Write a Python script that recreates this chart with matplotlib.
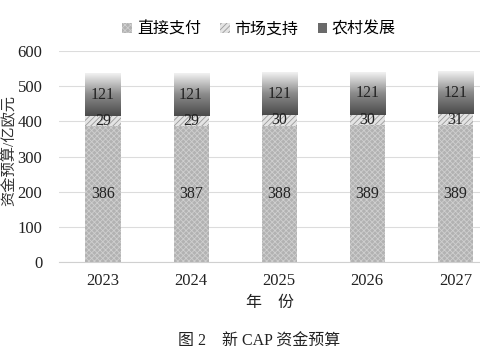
import matplotlib
matplotlib.use("Agg")
import matplotlib.pyplot as plt
import numpy as np
from matplotlib.patches import Patch
from matplotlib.colors import LinearSegmentedColormap

plt.rcParams['font.family'] = ['Liberation Serif', 'Noto Sans CJK SC']
plt.rcParams['hatch.linewidth'] = 0.6

years = ['2023', '2024', '2025', '2026', '2027']
direct = [386, 387, 388, 389, 389]
market = [29, 29, 30, 30, 31]
rural = [121, 121, 121, 121, 121]
series_names = ['直接支付', '市场支持', '农村发展']

fig = plt.figure(figsize=(4.8, 3.6), dpi=100)
ax = fig.add_axes([0.123, 0.272, 0.877, 0.586])

x = np.arange(len(years))
w = 0.4
ax.bar(x, direct, w, color='#b2b2b2', edgecolor='#cfcfcf', hatch='xxxxxx', linewidth=0, zorder=2)
ax.bar(x, market, w, bottom=direct, color='#e4e4e4', edgecolor='#9a9a9a', hatch='//////', linewidth=0, zorder=2)
bottoms3 = np.array(direct) + np.array(market)
ax.bar(x, rural, w, bottom=bottoms3, color='none', linewidth=0, zorder=2)

cmap = LinearSegmentedColormap.from_list('g', ['#4a4a4a', '#8a8a8a', '#f2f2f2'])
grad = np.linspace(0, 1, 256).reshape(-1, 1)
for xi, bt, h in zip(x, bottoms3, rural):
    ax.imshow(grad, extent=[xi - w / 2, xi + w / 2, bt, bt + h], origin='lower',
              aspect='auto', cmap=cmap, zorder=2)

for xi, d, m, r in zip(x, direct, market, rural):
    ax.text(xi, d / 2, str(d), ha='center', va='center', fontsize=11.5, color='#222222', zorder=3)
    ax.text(xi, d + m / 2, str(m), ha='center', va='center', fontsize=11.5, color='#222222', zorder=3)
    ax.text(xi, d + m + r / 2, str(r), ha='center', va='center', fontsize=11.5, color='#222222', zorder=3)

ax.set_xlim(-0.5, 4.28)
ax.set_ylim(0, 600)
ax.set_yticks(range(0, 601, 100))
ax.set_xticks(x)
ax.set_xticklabels(years)
ax.tick_params(axis='both', length=0, labelsize=12, colors='#222222')
ax.tick_params(axis='x', pad=8)
ax.tick_params(axis='y', pad=12)
ax.yaxis.grid(True, color='#dcdcdc', linewidth=0.8, zorder=0)
ax.set_axisbelow(True)
for s in ['top', 'right', 'left']:
    ax.spines[s].set_visible(False)
ax.spines['bottom'].set_color('#d0d0d0')

ax.set_ylabel('资金预算/亿欧元', fontsize=11, color='#333333')
ax.yaxis.set_label_coords(-0.104, 0.53)
ax.set_xlabel('年　份', fontsize=11.5, color='#222222')
ax.xaxis.set_label_coords(0.5, -0.155)

handles = [
    Patch(facecolor='#b2b2b2', edgecolor='#cfcfcf', hatch='xxxxxx', linewidth=0),
    Patch(facecolor='#e4e4e4', edgecolor='#9a9a9a', hatch='//////', linewidth=0),
    Patch(facecolor='#6a6a6a', edgecolor='none'),
]
fig.legend(handles, series_names, loc='center', bbox_to_anchor=(0.54, 0.917), ncol=3,
           frameon=False, fontsize=11.5, handlelength=0.6, handleheight=0.6,
           handletextpad=0.3, columnspacing=1.2)

fig.text(0.54, 0.05, '图 2　新 CAP 资金预算', ha='center', va='center', fontsize=11.5, color='#222222')

fig.savefig('out.png', dpi=100)
